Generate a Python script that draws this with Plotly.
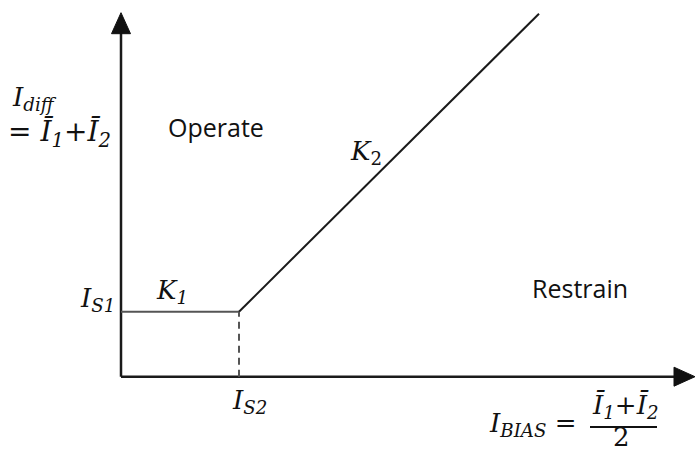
import plotly.graph_objects as go

# ---- data (chart units, origin at axis crossing) ----
IS2 = 118          # bias current where slope K2 starts
IS1 = 65           # minimum differential pickup
K2_END_X = 418     # end of K2 slope line
K2_END_Y = 363
X_AXIS_TIP = 574
Y_AXIS_TIP = 364

char_x = [0, IS2]
char_y = [IS1, IS1]
slope_x = [IS2, K2_END_X]
slope_y = [IS1, K2_END_Y]

W, H = 696, 451
OX, OY = 121, 376.7  # pixel position of origin

fig = go.Figure()

# axes lines
fig.add_trace(go.Scatter(x=[0, X_AXIS_TIP - 18], y=[0, 0], mode="lines",
                         line=dict(color="#1a1a1a", width=2.5), hoverinfo="skip"))
fig.add_trace(go.Scatter(x=[0, 0], y=[0, Y_AXIS_TIP - 18], mode="lines",
                         line=dict(color="#1a1a1a", width=2.5), hoverinfo="skip"))
# arrow heads
AL, AW = 21, 9.5
fig.add_trace(go.Scatter(x=[X_AXIS_TIP, X_AXIS_TIP - AL, X_AXIS_TIP - AL, X_AXIS_TIP],
                         y=[0, AW, -AW, 0], mode="lines", fill="toself",
                         fillcolor="#111", line=dict(color="#111", width=1), hoverinfo="skip"))
fig.add_trace(go.Scatter(x=[0, -AW, AW, 0],
                         y=[Y_AXIS_TIP, Y_AXIS_TIP - AL, Y_AXIS_TIP - AL, Y_AXIS_TIP],
                         mode="lines", fill="toself",
                         fillcolor="#111", line=dict(color="#111", width=1), hoverinfo="skip"))

# characteristic
fig.add_trace(go.Scatter(x=char_x, y=char_y, mode="lines",
                         line=dict(color="#555", width=2), hoverinfo="skip"))
fig.add_trace(go.Scatter(x=slope_x, y=slope_y, mode="lines",
                         line=dict(color="#1a1a1a", width=2), hoverinfo="skip"))
fig.add_trace(go.Scatter(x=[IS2, IS2], y=[0, IS1], mode="lines",
                         line=dict(color="#555", width=2, dash="7px,5px"), hoverinfo="skip"))

SERIF = "DejaVu Serif, Liberation Serif, serif"
SANS = "Open Sans, Noto Sans, sans-serif"

def px(x):
    return x - OX

def py(y):
    return OY - y

def lab(text, x, y, size=26, font=SERIF, xanchor="center", yanchor="middle"):
    fig.add_annotation(x=px(x), y=py(y), xref="x", yref="y", text=text, showarrow=False,
                       font=dict(family=font, size=size, color="#111"),
                       xanchor=xanchor, yanchor=yanchor)

lab("<i>I</i><sub><i>diff</i></sub>", 10, 98, xanchor="left")
lab("= <i>Ī</i><sub><i>1</i></sub>+<i>Ī</i><sub><i>2</i></sub>", 6, 133, size=28, xanchor="left")
lab("Operate", 216, 127, size=25, font=SANS)
lab("<i>K</i><sub>2</sub>", 366, 152)
lab("<i>K</i><sub><i>1</i></sub>", 172, 291)
lab("<i>I</i><sub><i>S1</i></sub>", 97, 299)
lab("Restrain", 580, 288, size=25, font=SANS)
lab("<i>I</i><sub><i>S2</i></sub>", 249, 401)
lab("<i>I</i><sub><i>BIAS</i></sub> =", 533, 424)
lab("<i>Ī</i><sub><i>1</i></sub>+<i>Ī</i><sub><i>2</i></sub>", 625, 406)
lab("2", 621, 437)
fig.add_shape(type="line", xref="x", yref="y", x0=px(590), x1=px(657), y0=py(427), y1=py(427),
              line=dict(color="#111", width=2))

fig.update_layout(width=W, height=H, margin=dict(l=0, r=0, t=0, b=0),
                  plot_bgcolor="white", paper_bgcolor="white", showlegend=False,
                  xaxis=dict(range=[-OX, W - OX], visible=False, fixedrange=True),
                  yaxis=dict(range=[OY - H, OY], visible=False, fixedrange=True))

fig.write_html("out.html", config={"displayModeBar": False},
               post_script="document.body.style.margin='0';document.body.style.overflow='hidden';")
